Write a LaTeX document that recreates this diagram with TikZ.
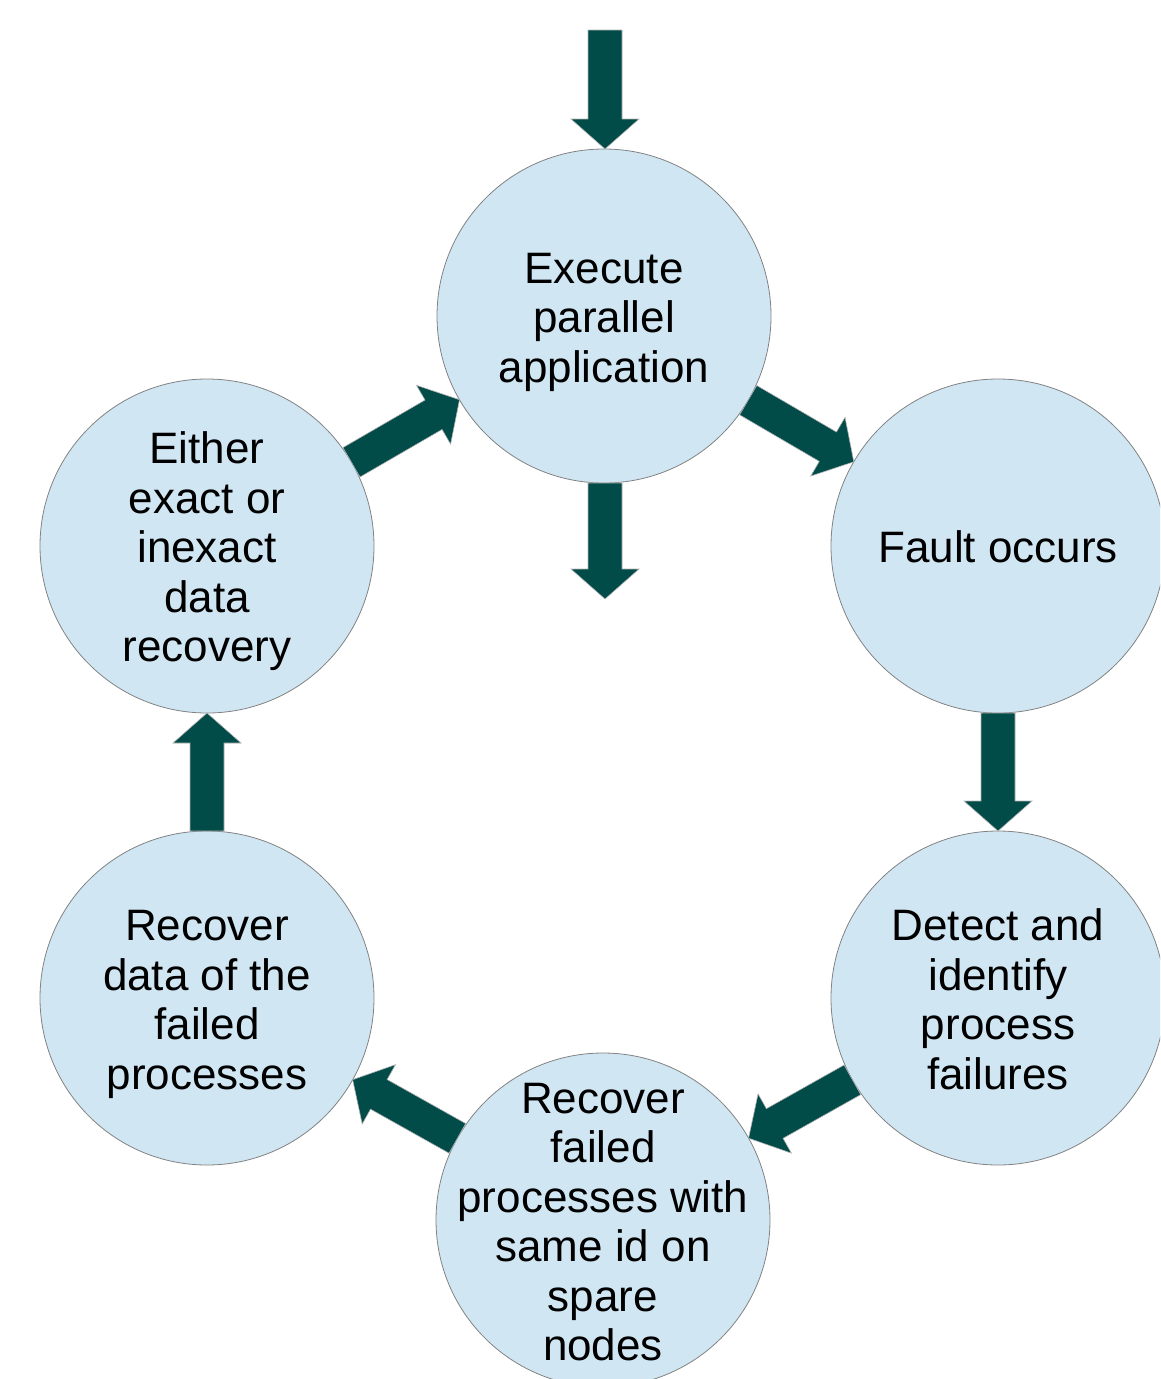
\documentclass[tikz,border=0pt]{standalone}
\usepackage{fontspec}
\setmainfont{Liberation Sans}
\usetikzlibrary{calc}
\definecolor{cfill}{RGB}{208,230,243}
\definecolor{afill}{RGB}{1,75,73}
\definecolor{cline}{RGB}{130,130,130}
\tikzset{
  stage/.style={circle, minimum size=334pt, inner sep=0pt, fill=cfill, draw=cline, line width=0.8pt},
  stagetext/.style={inner sep=0pt, align=center, yshift=-7pt, font=\fontsize{44}{49.5}\selectfont},
  blockarr/.style={fill=afill, draw=cline!60, line width=0.6pt, line join=miter}
}
\newcommand\blockarrow[2]{%
  \coordinate (ha) at ($(#2)!30pt!(#1)$);
  \filldraw[blockarr] ($(#1)!17pt!90:(#2)$) -- ($(ha)!17pt!90:(#2)$) -- ($(ha)!34pt!90:(#2)$)
    -- (#2) -- ($(ha)!34pt!-90:(#2)$) -- ($(ha)!17pt!-90:(#2)$) -- ($(#1)!17pt!-90:(#2)$) -- cycle;}
\begin{document}
\begin{tikzpicture}[x=1pt,y=-1pt]
\useasboundingbox (0,0) rectangle (1160,1379);
\clip (0,0) rectangle (1160,1379);
\node[stage] (exec) at (604,316) {};
\node[stage] (fault) at (998,546) {};
\node[stage] (detect) at (998,998) {};
\node[stage] (respawn) at (603,1220) {};
\node[stage] (recdata) at (207,998) {};
\node[stage] (either) at (207,546) {};
\node[stagetext] (exec-t) at (exec.center) {\strut Execute\\parallel\\application\strut};
\node[stagetext] (fault-t) at (fault.center) {\strut Fault occurs\strut};
\node[stagetext] (detect-t) at (detect.center) {\strut Detect and\\identify\\process\\failures\strut};
\node[stagetext] (respawn-t) at (respawn.center) {\strut Recover\\failed\\processes with\\same id on\\spare\\nodes\strut};
\node[stagetext] (recdata-t) at (recdata.center) {\strut Recover\\data of the\\failed\\processes\strut};
\node[stagetext] (either-t) at (either.center) {\strut Either\\exact or\\inexact\\data\\recovery\strut};
\coordinate (in) at (605,30);
\coordinate (out) at (605,599);
\coordinate (e1) at ($(exec.center)!167pt!(fault.center)$);
\coordinate (f1) at ($(fault.center)!167pt!(exec.center)$);
\coordinate (d1) at ($(detect.center)!167pt!(respawn.center)$);
\coordinate (r1) at ($(respawn.center)!167pt!(detect.center)$);
\coordinate (r2) at ($(respawn.center)!167pt!(recdata.center)$);
\coordinate (c1) at ($(recdata.center)!167pt!(respawn.center)$);
\coordinate (i1) at ($(either.center)!167pt!(exec.center)$);
\coordinate (e2) at ($(exec.center)!167pt!(either.center)$);
\coordinate (en) at (605,149);
\coordinate (es) at (605,483);
\coordinate (fs) at ($(fault.center)+(0,167)$);
\coordinate (dn) at ($(detect.center)+(0,-167)$);
\coordinate (rn) at ($(recdata.center)+(0,-167)$);
\coordinate (is) at ($(either.center)+(0,167)$);
\blockarrow{in}{en}
\blockarrow{es}{out}
\blockarrow{e1}{f1}
\blockarrow{fs}{dn}
\blockarrow{d1}{r1}
\blockarrow{r2}{c1}
\blockarrow{rn}{is}
\blockarrow{i1}{e2}
\end{tikzpicture}
\end{document}
